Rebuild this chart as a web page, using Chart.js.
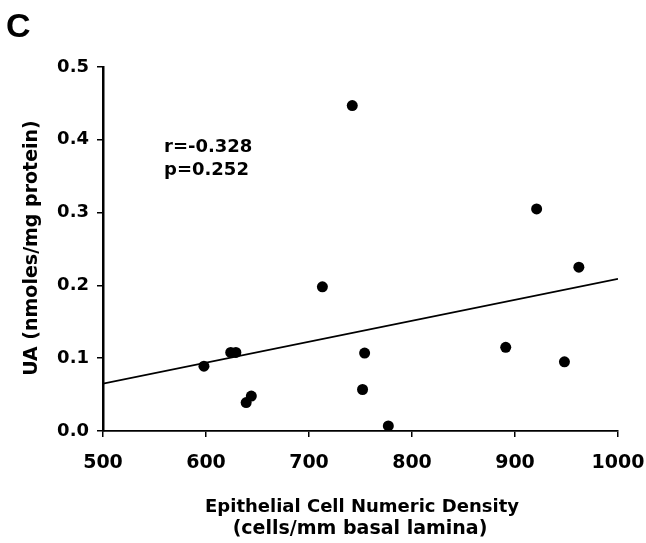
<!DOCTYPE html>
<html>
<head>
<meta charset="utf-8">
<script src="https://cdn.jsdelivr.net/npm/chart.js@4/dist/chart.umd.min.js"></script>
<style>
  html, body { margin:0; padding:0; background:#fff; }
  #wrap { width:646px; height:543px; position:relative; }
</style>
</head>
<body>
<div id="wrap"><canvas id="c"></canvas></div>
<script>
// data
const densityX = [598, 624, 629, 639, 644, 713, 742, 752, 754, 777, 891, 921, 948, 962];
const uaY      = [0.089, 0.108, 0.108, 0.039, 0.048, 0.198, 0.447, 0.057, 0.107, 0.007, 0.115, 0.305, 0.095, 0.225];
const fitX = [500, 1000];
const fitY = [0.065, 0.209];
const statLines = ['r=-0.328', 'p=0.252'];
const panelLabel = 'C';
const yTitle = 'UA (nmoles/mg protein)';
const xTitle = ['Epithelial Cell Numeric Density', '(cells/mm basal lamina)'];

const FONT = '"DejaVu Sans", sans-serif';

const textBits = {
  id: 'textBits',
  afterDraw(chart){
    const {ctx} = chart;
    ctx.save();
    ctx.fillStyle = '#000';
    ctx.textBaseline = 'alphabetic';
    ctx.font = 'bold 34px "Liberation Sans", Arial, sans-serif';
    ctx.fillText(panelLabel, 6, 37);

    ctx.font = 'bold 18px ' + FONT;
    ctx.fillText(statLines[0], 164, 152);
    ctx.fillText(statLines[1], 164, 175);

    ctx.textAlign = 'center';
    ctx.font = 'bold 18px ' + FONT;
    ctx.fillText(xTitle[0], 362, 512);
    ctx.font = 'bold 19px ' + FONT;
    ctx.fillText(xTitle[1], 360, 534);

    ctx.translate(37, 248);
    ctx.rotate(-Math.PI/2);
    ctx.font = 'bold 19px ' + FONT;
    ctx.fillText(yTitle, 0, 0);
    ctx.restore();
  }
};

const pts = densityX.map((x,i)=>({x, y:uaY[i]}));
const fit = fitX.map((x,i)=>({x, y:fitY[i]}));

new Chart(document.getElementById('c').getContext('2d'), {
  type:'scatter',
  data:{ datasets:[
    { data:pts, pointRadius:5.5, pointHoverRadius:5.5, backgroundColor:'#000', borderColor:'#000', borderWidth:0 },
    { type:'line', data:fit, borderColor:'#000', borderWidth:1.6, pointRadius:0, fill:false }
  ]},
  options:{
    responsive:true, maintainAspectRatio:false, animation:false,
    layout:{ padding:{ top:67, right:28, left:0, bottom:0 } },
    plugins:{ legend:{ display:false }, tooltip:{ enabled:false } },
    scales:{
      x:{
        type:'linear', min:500, max:1000,
        border:{ color:'#000', width:1.8 },
        grid:{ display:true, drawOnChartArea:false, color:'#000', lineWidth:1.5, tickLength:6 },
        ticks:{ stepSize:100, color:'#000', padding:15, font:{ family:FONT, size:19, weight:'bold' },
          callback:(v)=> String(v) },
        afterFit(s){ s.height = 543 - 431; s.paddingLeft = 0; s.paddingRight = 0; }
      },
      y:{
        min:0, max:0.5,
        border:{ color:'#000', width:2.5 },
        grid:{ display:true, drawOnChartArea:false, color:'#000', lineWidth:1.5, tickLength:6 },
        ticks:{ stepSize:0.1, color:'#000', padding:8, font:{ family:FONT, size:18, weight:'bold' },
          callback:(v)=> v.toFixed(1) },
        afterFit(s){ s.width = 103; s.paddingTop = 0; s.paddingBottom = 0; }
      }
    }
  },
  plugins:[textBits]
});
</script>
</body>
</html>
